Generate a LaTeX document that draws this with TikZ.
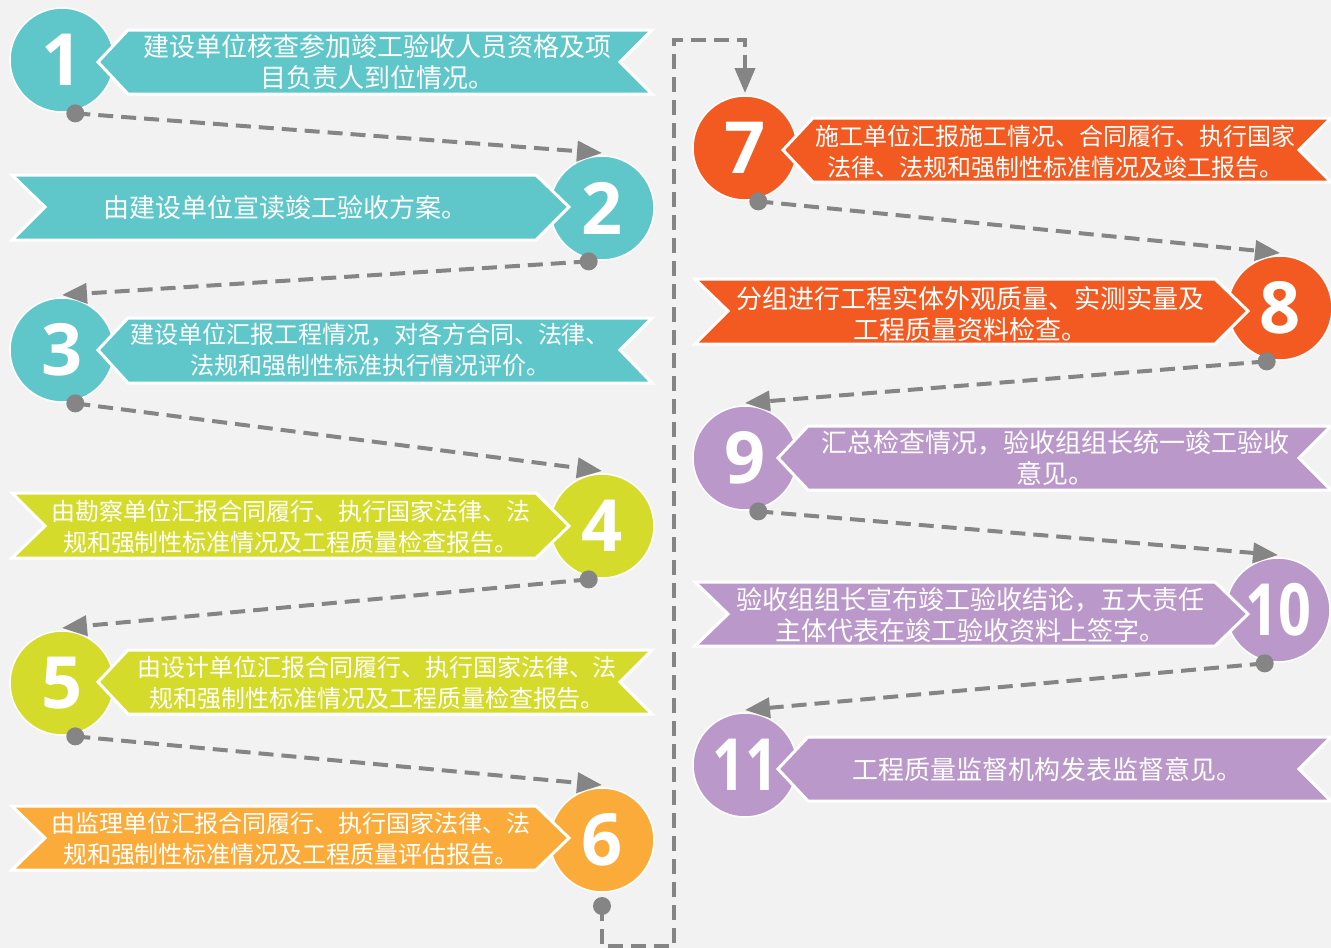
\documentclass[tikz,border=0pt]{standalone}
\usepackage{fontspec}
\usepackage{tikz}
\usetikzlibrary{arrows.meta}
\newfontfamily\cjk{Noto Sans CJK SC}
\newfontfamily\numfont{Open Sans}
\definecolor{bg}{HTML}{F2F2F2}
\definecolor{cteal}{HTML}{5FC7CA}
\definecolor{clime}{HTML}{D5DB2B}
\definecolor{corange}{HTML}{FAAB3A}
\definecolor{cred}{HTML}{F35A21}
\definecolor{cpurple}{HTML}{BB98CA}
\definecolor{cflow}{HTML}{858585}

\begin{document}
\begin{tikzpicture}[x=1pt,y=-1pt,
  num/.style={circle,minimum size=104pt,inner sep=0pt,outer sep=3pt,draw=white,line width=1.5pt,text=white,font=\numfont\bfseries\fontsize{72}{72}\selectfont},
  band/.style={draw=white,line width=3pt,line join=miter},
  txt/.style={text=white,align=center,font=\cjk\fontsize{26}{31}\selectfont},
  txts/.style={txt,font=\cjk\fontsize{24}{31}\selectfont},
  flow/.style={draw=cflow,line width=4pt,dash pattern=on 15pt off 8pt,-{Triangle[length=25pt,width=20pt]}},
  flowdot/.style={fill=cflow}]
\useasboundingbox (0,0) rectangle (1331,948);
\fill[bg] (0,0) rectangle (1331,948);

\node[num,fill=cteal] (n1) at (62,60) {1};
\node[num,fill=cteal] (n2) at (602,208) {2};
\node[num,fill=cteal] (n3) at (62,350) {3};
\node[num,fill=clime] (n4) at (602,526) {4};
\node[num,fill=clime] (n5) at (62,683) {5};
\node[num,fill=corange] (n6) at (602,840) {6};
\node[num,fill=cred] (n7) at (745,148) {7};
\node[num,fill=cred] (n8) at (1280,308) {8};
\node[num,fill=cpurple] (n9) at (745,458) {9};
\node[num,fill=cpurple] (n10) at (1278,610) {\scalebox{0.8}[1]{10}};
\node[num,fill=cpurple] (n11) at (745,765) {\scalebox{0.8}[1]{11}};

\filldraw[band,fill=cteal] (98,62) -- (128,30) -- (652,30) -- (620,62) -- (652,94) -- (128,94) -- cycle;
\filldraw[band,fill=cteal] (12,175) -- (536,175) -- (569,207) -- (536,240) -- (12,240) -- (45,207) -- cycle;
\filldraw[band,fill=cteal] (98,350) -- (128,318) -- (652,318) -- (620,350) -- (652,383) -- (128,383) -- cycle;
\filldraw[band,fill=clime] (12,493) -- (536,493) -- (569,526) -- (536,558) -- (12,558) -- (45,526) -- cycle;
\filldraw[band,fill=clime] (98,682) -- (128,650) -- (652,650) -- (620,682) -- (652,714) -- (128,714) -- cycle;
\filldraw[band,fill=corange] (12,806) -- (536,806) -- (569,838) -- (536,870) -- (12,870) -- (45,838) -- cycle;
\filldraw[band,fill=cred] (783,150) -- (813,118) -- (1331,118) -- (1299,150) -- (1331,182) -- (813,182) -- cycle;
\filldraw[band,fill=cred] (695,279) -- (1215,279) -- (1248,311) -- (1215,344) -- (695,344) -- (728,311) -- cycle;
\filldraw[band,fill=cpurple] (778,458) -- (808,426) -- (1331,426) -- (1299,458) -- (1331,490) -- (808,490) -- cycle;
\filldraw[band,fill=cpurple] (695,582) -- (1215,582) -- (1248,614) -- (1215,646) -- (695,646) -- (728,614) -- cycle;
\filldraw[band,fill=cpurple] (778,769) -- (808,737) -- (1331,737) -- (1299,769) -- (1331,801) -- (808,801) -- cycle;

\node[txt] (t1) at (377,62) {建设单位核查参加竣工验收人员资格及项\\目负责人到位情况。};
\node[txt] (t2) at (285,208) {由建设单位宣读竣工验收方案。};
\node[txts] (t3) at (370,350) {建设单位汇报工程情况，对各方合同、法律、\\法规和强制性标准执行情况评价。};
\node[txts] (t4) at (291,527) {由勘察单位汇报合同履行、执行国家法律、法\\规和强制性标准情况及工程质量检查报告。};
\node[txts] (t5) at (377,683) {由设计单位汇报合同履行、执行国家法律、法\\规和强制性标准情况及工程质量检查报告。};
\node[txts] (t6) at (291,839) {由监理单位汇报合同履行、执行国家法律、法\\规和强制性标准情况及工程质量评估报告。};
\node[txts] (t7) at (1055,152) {施工单位汇报施工情况、合同履行、执行国家\\法律、法规和强制性标准情况及竣工报告。};
\node[txt] (t8) at (970,314) {分组进行工程实体外观质量、实测实量及\\工程质量资料检查。};
\node[txt] (t9) at (1055,458) {汇总检查情况，验收组组长统一竣工验收\\意见。};
\node[txt] (t10) at (970,615) {验收组组长宣布竣工验收结论，五大责任\\主体代表在竣工验收资料上签字。};
\node[txt] (t11) at (1047,770) {工程质量监督机构发表监督意见。};

\coordinate (d6) at (602,906);
\coordinate (c1) at (602,946);
\coordinate (c2) at (674,946);
\coordinate (c3) at (674,40);
\coordinate (c4) at (745,40);

\draw[flow] (n1.-76) -- (n2.north);
\draw[flow] (n2.-104) -- (n3.north);
\draw[flow] (n3.-76) -- (n4.north);
\draw[flow] (n4.-104) -- (n5.north);
\draw[flow] (n5.-76) -- (n6.north);
\draw[flow] (d6) -- (c1) -- (c2) -- (c3) -- (c4) -- (n7.north);
\draw[flow] (n7.-76) -- (n8.north);
\draw[flow] (n8.-104) -- (n9.north);
\draw[flow] (n9.-76) -- (n10.north);
\draw[flow] (n10.-104) -- (n11.north);
\fill[flowdot] (n1.-76) circle (9pt);
\fill[flowdot] (n2.-104) circle (9pt);
\fill[flowdot] (n3.-76) circle (9pt);
\fill[flowdot] (n4.-104) circle (9pt);
\fill[flowdot] (n5.-76) circle (9pt);
\fill[flowdot] (d6) circle (9pt);
\fill[flowdot] (n7.-76) circle (9pt);
\fill[flowdot] (n8.-104) circle (9pt);
\fill[flowdot] (n9.-76) circle (9pt);
\fill[flowdot] (n10.-104) circle (9pt);
\end{tikzpicture}
\end{document}
